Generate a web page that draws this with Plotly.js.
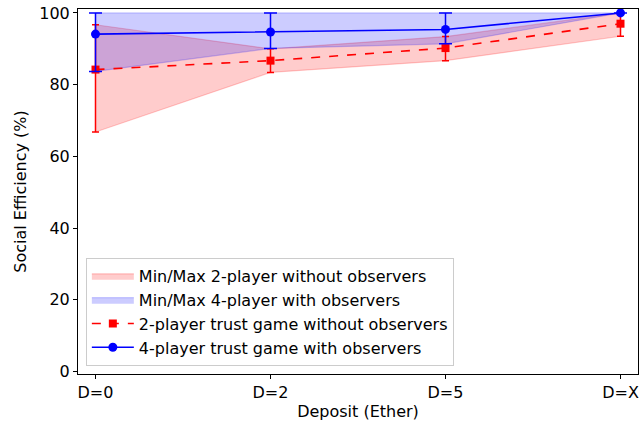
<!DOCTYPE html>
<html>
<head>
<meta charset="utf-8">
<script src="https://cdn.plot.ly/plotly-3.0.1.min.js"></script>
<style>html,body{margin:0;padding:0;background:#fff;}#chart{width:641px;height:428px;}</style>
</head>
<body>
<div id="chart"></div>
<script>
const categories = ["D=0", "D=2", "D=5", "D=X"];
const twoPlayerMean = [84.2, 86.7, 90.2, 97.0];
const twoPlayerMin  = [66.8, 83.4, 86.7, 93.5];
const twoPlayerMax  = [96.7, 90.0, 93.4, 100.0];
const fourPlayerMean = [94.1, 94.7, 95.4, 100.0];
const fourPlayerMin  = [83.7, 90.1, 91.4, 100.0];
const fourPlayerMax  = [100.0, 100.0, 100.0, 100.0];
const yTicks = [0, 20, 40, 60, 80, 100];

const xIdx = categories.map((c, i) => i);
function band(lo, hi) {
  return {
    x: xIdx.concat(xIdx.slice().reverse()),
    y: hi.concat(lo.slice().reverse())
  };
}
const redBand = band(twoPlayerMin, twoPlayerMax);
const blueBand = band(fourPlayerMin, fourPlayerMax);

const font = {family: "DejaVu Sans", size: 16, color: "#000"};

const traces = [
  {
    x: redBand.x, y: redBand.y, type: "scatter", mode: "lines",
    fill: "toself", fillcolor: "rgba(255,0,0,0.2)",
    line: {color: "rgba(255,0,0,0.2)", width: 1.2},
    name: "Min/Max 2-player without observers", hoverinfo: "skip"
  },
  {
    x: blueBand.x, y: blueBand.y, type: "scatter", mode: "lines",
    fill: "toself", fillcolor: "rgba(0,0,255,0.2)",
    line: {color: "rgba(0,0,255,0.2)", width: 1.2},
    name: "Min/Max 4-player with observers", hoverinfo: "skip"
  },
  {
    x: xIdx, y: twoPlayerMean, type: "scatter", mode: "lines+markers",
    line: {color: "#ff0000", width: 1.6, dash: "dash"},
    marker: {symbol: "square", size: 8, color: "#ff0000"},
    error_y: {
      type: "data", symmetric: false,
      array: twoPlayerMax.map((v, i) => v - twoPlayerMean[i]),
      arrayminus: twoPlayerMean.map((v, i) => v - twoPlayerMin[i]),
      color: "#ff0000", thickness: 1.5, width: 3.5
    },
    name: "2-player trust game without observers"
  },
  {
    x: xIdx, y: fourPlayerMean, type: "scatter", mode: "lines+markers",
    line: {color: "#0000ff", width: 1.6},
    marker: {symbol: "circle", size: 9, color: "#0000ff"},
    error_y: {
      type: "data", symmetric: false,
      array: fourPlayerMax.map((v, i) => v - fourPlayerMean[i]),
      arrayminus: fourPlayerMean.map((v, i) => v - fourPlayerMin[i]),
      color: "#0000ff", thickness: 1.5, width: 6.5
    },
    name: "4-player trust game with observers"
  }
];

const layout = {
  width: 641, height: 428,
  margin: {l: 78, r: 3, t: 9, b: 54},
  paper_bgcolor: "#fff", plot_bgcolor: "#fff",
  font: font,
  showlegend: true,
  legend: {
    x: 0.014, y: 0.022, xanchor: "left", yanchor: "bottom",
    bgcolor: "rgba(255,255,255,0.8)", bordercolor: "#cccccc", borderwidth: 1,
    font: {family: "DejaVu Sans", size: 16, color: "#000"},
    itemwidth: 42,
    tracegroupgap: 0
  },
  xaxis: {
    range: [-0.1, 3.1],
    tickvals: xIdx, ticktext: categories,
    showgrid: false, zeroline: false,
    showline: true, linecolor: "#000", linewidth: 1, mirror: true,
    ticks: "outside", ticklen: 4, tickcolor: "#000",
    tickfont: font,
    title: {text: "Deposit (Ether)", font: font, standoff: 4}
  },
  yaxis: {
    range: [-0.7, 101.1],
    tickvals: yTicks,
    showgrid: false, zeroline: false,
    showline: true, linecolor: "#000", linewidth: 1, mirror: true,
    ticks: "outside", ticklen: 4, tickcolor: "#000",
    tickfont: font,
    title: {text: "Social Efficiency (%)", font: font, standoff: 8}
  }
};

Plotly.newPlot("chart", traces, layout, {displayModeBar: false, staticPlot: true});
</script>
</body>
</html>
